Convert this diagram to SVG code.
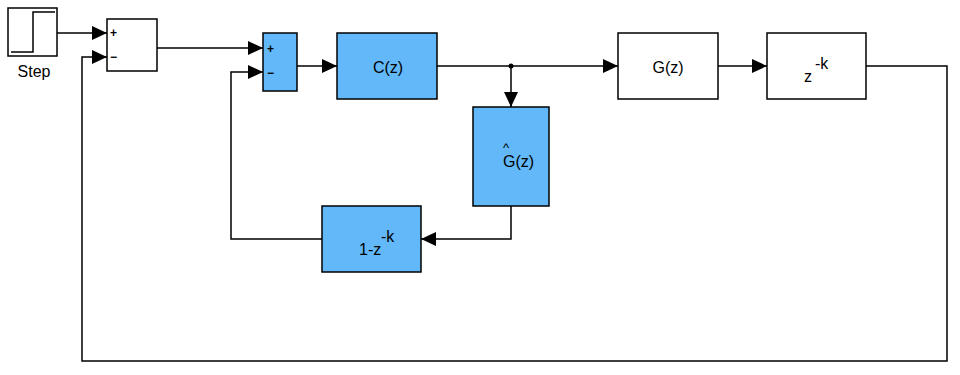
<svg xmlns="http://www.w3.org/2000/svg" width="960" height="375" viewBox="0 0 960 375">
<defs>
<marker id="ah" viewBox="0 0 15 14" refX="15" refY="7" markerWidth="15" markerHeight="14" markerUnits="userSpaceOnUse" orient="auto">
<path d="M0,0 L15,7 L0,14 Z" fill="#000"/>
</marker>
</defs>
<style>
.blk{fill:#fff;stroke:#000;stroke-width:1.5}
.blu{fill:#62b8f9;stroke:#000;stroke-width:1.5}
.w{fill:none;stroke:#000;stroke-width:1.5}
.a{marker-end:url(#ah)}
text{font-family:"Liberation Sans",Arial,sans-serif;font-size:16px;fill:#000}
.s{font-size:12px;font-weight:bold}
.c{font-size:13px}
</style>
<rect width="960" height="375" fill="#fff"/>
<g id="connectors">
<path class="w a" d="M57,33 H107"/>
<path class="w a" d="M157,48 H263"/>
<path class="w a" d="M297,66 H337"/>
<path class="w a" d="M437,66 H618"/>
<path class="w a" d="M511,66 V107"/>
<path class="w a" d="M718,66 H767"/>
<path class="w a" d="M511,206 V239 H421"/>
<path class="w a" d="M322,239 H231 V72 H263"/>
<path class="w a" d="M866,66 H947 V361 H82 V57 H107"/>
<circle cx="511" cy="66" r="2.5" fill="#000"/>
</g>
<g id="step">
<rect class="blk" x="8" y="8" width="49" height="48"/>
<path class="w" d="M11,52 H33 V12 H55"/>
<text x="34" y="77" text-anchor="middle">Step</text>
</g>
<g id="sum1">
<rect class="blk" x="107" y="19" width="50" height="52"/>
<text class="s" x="110" y="37">+</text>
<text class="s" x="110" y="61">−</text>
</g>
<g id="sum2">
<rect class="blu" x="263" y="33" width="34" height="58"/>
<text class="s" x="267" y="53">+</text>
<text class="s" x="267" y="77">−</text>
</g>
<g id="C">
<rect class="blu" x="337" y="33" width="100" height="66"/>
<text x="388" y="73" text-anchor="middle">C(z)</text>
</g>
<g id="G">
<rect class="blk" x="618" y="33" width="100" height="66"/>
<text x="668" y="73" text-anchor="middle">G(z)</text>
</g>
<g id="delay">
<rect class="blk" x="767" y="33" width="99" height="66"/>
<text x="804" y="82">z</text>
<text x="815" y="69">-k</text>
</g>
<g id="Ghat">
<rect class="blu" x="473" y="107" width="76" height="99"/>
<text class="c" x="503" y="152">^</text>
<text x="503" y="167">G(z)</text>
</g>
<g id="oneminus">
<rect class="blu" x="322" y="206" width="99" height="66"/>
<text x="359" y="255">1-z</text>
<text x="381" y="242">-k</text>
</g>
</svg>
